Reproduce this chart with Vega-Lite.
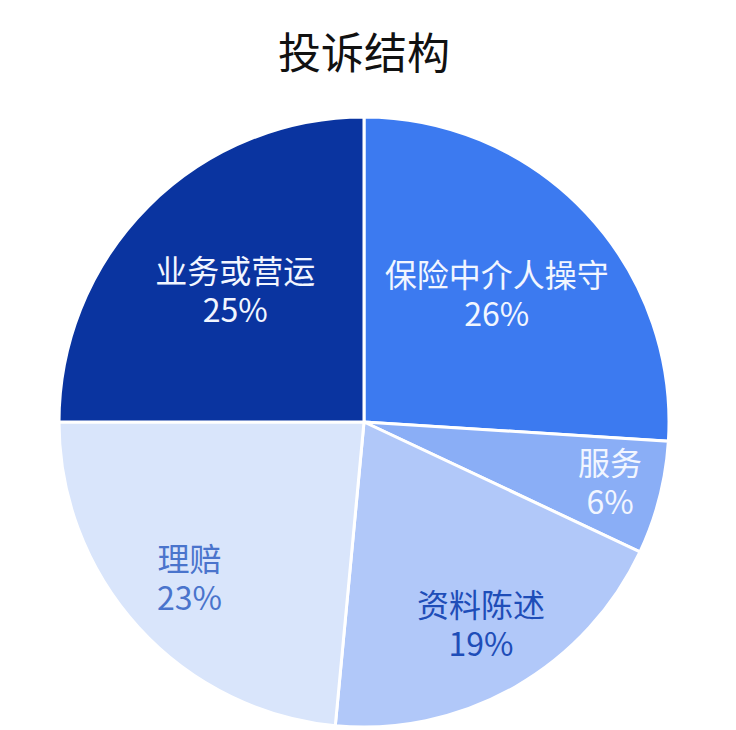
{
  "$schema": "https://vega.github.io/schema/vega-lite/v6.json",
  "width": 728,
  "height": 612,
  "autosize": {"type": "none"},
  "padding": {"left": 0, "top": 116, "right": 8, "bottom": 2},
  "background": "white",
  "title": {
    "text": "投诉结构",
    "font": "Noto Sans CJK SC",
    "fontSize": 43,
    "fontWeight": "normal",
    "color": "#111111",
    "anchor": "middle",
    "offset": 33
  },
  "data": {
    "values": [
      {"name": "保险中介人操守", "value": 26, "label": ["保险中介人操守", "26%"], "order": 1},
      {"name": "服务", "value": 6, "label": ["服务", "6%"], "order": 2},
      {"name": "资料陈述", "value": 19.5, "label": ["资料陈述", "19%"], "order": 3},
      {"name": "理赔", "value": 23.5, "label": ["理赔", "23%"], "order": 4},
      {"name": "业务或营运", "value": 25, "label": ["业务或营运", "25%"], "order": 5}
    ]
  },
  "encoding": {
    "theta": {"field": "value", "type": "quantitative", "stack": true},
    "order": {"field": "order", "type": "quantitative"}
  },
  "layer": [
    {
      "mark": {"type": "arc", "outerRadius": 305, "stroke": "white", "strokeWidth": 3},
      "encoding": {
        "color": {
          "field": "name",
          "type": "nominal",
          "scale": {
            "domain": ["保险中介人操守", "服务", "资料陈述", "理赔", "业务或营运"],
            "range": ["#3C7AF0", "#8AAEF6", "#B1C8F9", "#D9E5FB", "#0A34A0"]
          },
          "legend": null
        }
      }
    },
    {
      "mark": {
        "type": "text",
        "radius": {"expr": "datum.value < 10 ? 254 : (datum.value < 24 ? 236 : 182)"},
        "font": "Noto Sans CJK SC",
        "fontSize": 32,
        "lineHeight": 39,
        "baseline": "middle",
        "dy": -20
      },
      "encoding": {
        "text": {"field": "label"},
        "color": {
          "field": "name",
          "type": "nominal",
          "scale": {
            "domain": ["保险中介人操守", "服务", "资料陈述", "理赔", "业务或营运"],
            "range": ["#F2F6FF", "#F2F6FF", "#1E4DB8", "#4A74CC", "#F2F6FF"]
          },
          "legend": null
        }
      }
    }
  ],
  "resolve": {"scale": {"color": "independent"}},
  "config": {"view": {"stroke": null}}
}
